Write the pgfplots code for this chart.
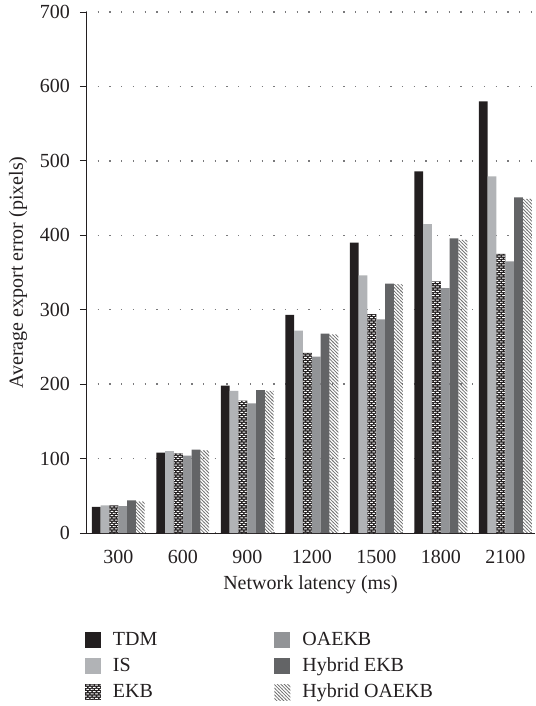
\documentclass[border=0pt]{standalone}
\usepackage{fontspec}
\setmainfont{Liberation Serif}
\usepackage{pgfplots}
\usepackage{pgfplotstable}
\pgfplotsset{compat=1.18}
\usetikzlibrary{patterns}

\definecolor{cTDM}{HTML}{231F20}
\definecolor{cIS}{HTML}{B1B3B6}
\definecolor{cOA}{HTML}{929497}
\definecolor{cHE}{HTML}{636466}
\definecolor{cgrid}{HTML}{7A7A7C}

% white dashes on black, as in the EKB bars
\pgfdeclarepatternformonly{ekbbricks}{\pgfqpoint{-0.1pt}{-0.1pt}}{\pgfqpoint{4.5pt}{4.5pt}}{\pgfqpoint{4.4pt}{4.4pt}}{%
  \pgfpathrectangle{\pgfqpoint{0.5pt}{0.6pt}}{\pgfqpoint{2.8pt}{1pt}}%
  \pgfpathrectangle{\pgfqpoint{2.7pt}{2.8pt}}{\pgfqpoint{1.7pt}{1pt}}%
  \pgfpathrectangle{\pgfqpoint{0pt}{2.8pt}}{\pgfqpoint{1.1pt}{1pt}}%
  \pgfusepath{fill}%
}
% denser, heavier "\\\" hatching for Hybrid OAEKB
\pgfdeclarepatternformonly{nwl}{\pgfqpoint{-1pt}{-1pt}}{\pgfqpoint{4.5pt}{4.5pt}}{\pgfqpoint{3.4pt}{3.4pt}}{%
  \pgfsetlinewidth{0.75pt}%
  \pgfpathmoveto{\pgfqpoint{-0.3pt}{3.7pt}}%
  \pgfpathlineto{\pgfqpoint{3.7pt}{-0.3pt}}%
  \pgfusepath{stroke}%
}

\pgfplotstableread{
x TDM IS EKB OAEKB HEKB HOAEKB
0 35 37 37 36 44 42
1 108 110 107 104 112 111
2 198 191 178 174 192 191
3 293 272 242 237 268 267
4 390 346 294 287 335 334
5 486 415 338 329 396 394
6 580 479 375 365 451 449
}\datatable

\begin{document}
\fontsize{20}{24}\selectfont
\color{cTDM}
\begin{tikzpicture}
\begin{axis}[
    scale only axis,
    width=449pt, height=521pt,
    ybar=0pt, bar width=8.83pt,
    xmin=-0.5, xmax=6.461,
    ymin=0, ymax=700,
    axis x line*=bottom, axis y line*=left,
    axis line style={cTDM, line width=0.9pt},
    xtick={0,...,6},
    xticklabels={300,600,900,1200,1500,1800,2100},
    x tick style={draw=none},
    extra x ticks={-0.5,0.5,1.5,2.5,3.5,4.5,5.5},
    extra x tick labels={},
    extra x tick style={grid=none, tick align=outside, major tick length=8pt,
        tick style={draw=cTDM, line width=0.9pt}},
    ytick={0,100,...,700},
    tick align=outside, major tick length=6pt,
    y tick style={cTDM, line width=0.9pt},
    ymajorgrids,
    grid style={cgrid, line width=1.3pt, dash pattern=on 1.3pt off 10.4pt},
    /pgf/number format/assume math mode=true,
    xticklabel style={anchor=base, yshift=-24pt, inner sep=0pt},
    yticklabel style={anchor=east, inner sep=0pt, xshift=-10pt},
    xlabel={Network latency (ms)},
    ylabel={Average export error (pixels)},
    xlabel style={at={(axis description cs:0.5,-0.0998)}, anchor=center},
    ylabel style={at={(axis description cs:-0.1514,0.5)}, anchor=center},
    legend columns=3, transpose legend,
    legend cell align=left,
    legend image code/.code={\path[#1] (0pt,-8pt) rectangle (16pt,8pt);},
    legend style={at={(rel axis cs:0,0)}, anchor=north west,
        xshift=-1pt, yshift=-98pt,
        draw=none, fill=none, inner sep=0pt, outer sep=0pt, row sep=8pt,
        nodes={inner sep=0pt, text height=14pt, text depth=4pt},
        /tikz/every odd column/.append style={column sep=12pt},
        /tikz/every even column/.append style={column sep=117pt}},
]
\addplot[draw=none, fill=cTDM] table[x=x, y=TDM] {\datatable};
\addplot[draw=none, fill=cIS] table[x=x, y=IS] {\datatable};
\addplot[draw=none, fill=cTDM, postaction={pattern=ekbbricks, pattern color=white}] table[x=x, y=EKB] {\datatable};
\addplot[draw=none, fill=cOA] table[x=x, y=OAEKB] {\datatable};
\addplot[draw=none, fill=cHE] table[x=x, y=HEKB] {\datatable};
\addplot[draw=none, pattern=nwl, pattern color=black!55] table[x=x, y=HOAEKB] {\datatable};
\legend{TDM, IS, EKB, OAEKB, Hybrid EKB, Hybrid OAEKB}
\end{axis}
\pgfresetboundingbox
\path[use as bounding box] (-86pt,-173pt) rectangle (449pt,533pt);
\end{tikzpicture}
\end{document}
